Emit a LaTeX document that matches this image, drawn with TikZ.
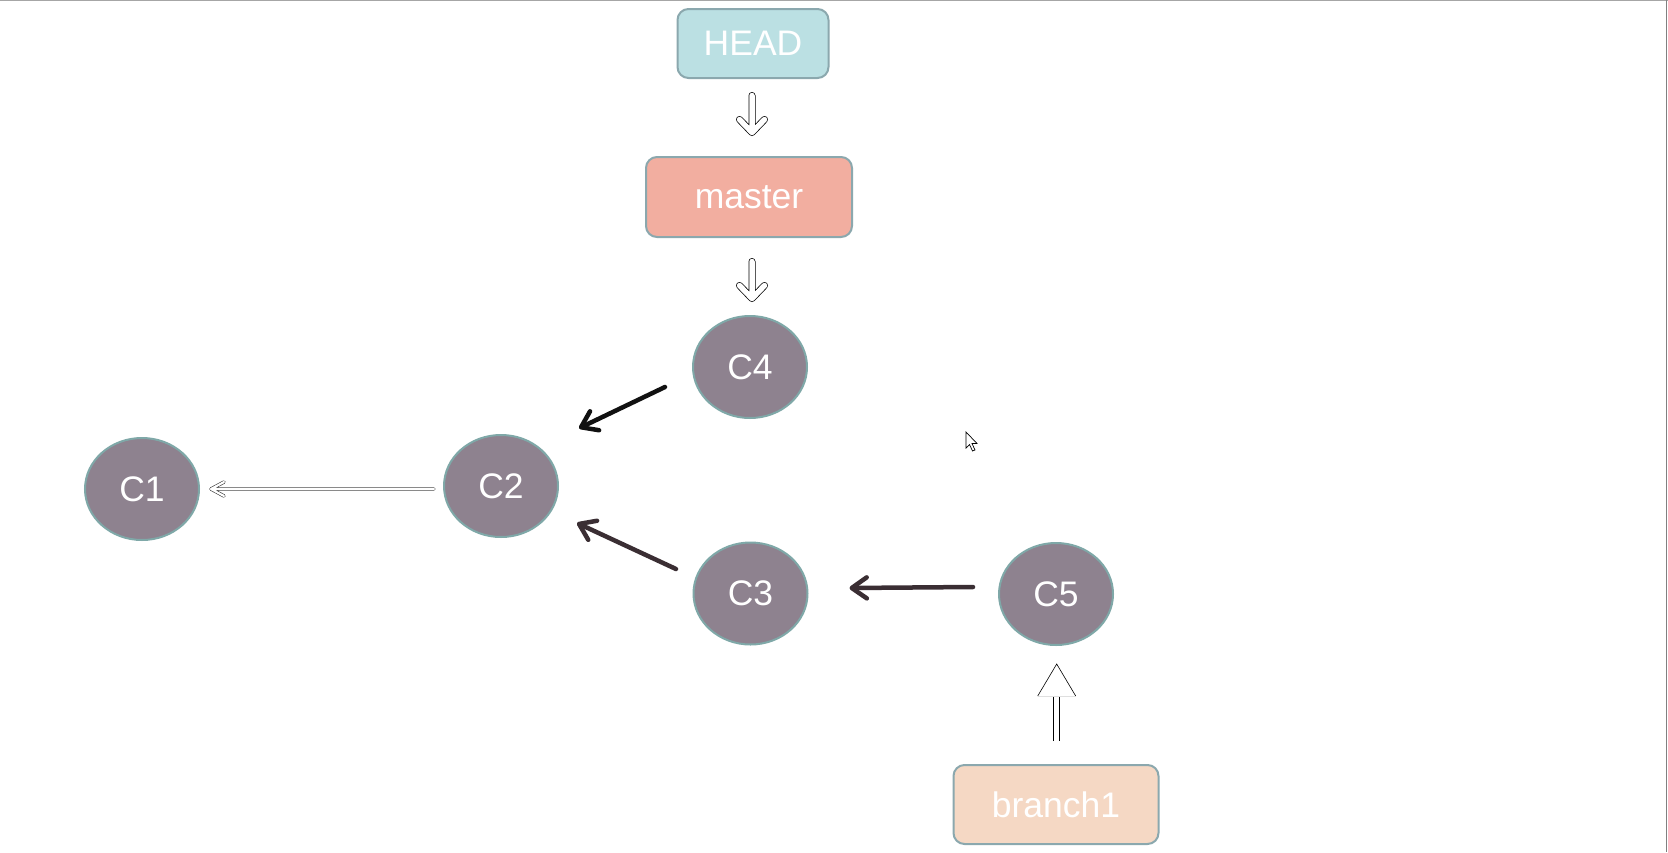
\documentclass[tikz,border=0pt]{standalone}
\usepackage{fontspec}
\setmainfont{Liberation Sans}
\usetikzlibrary{arrows.meta,shapes.geometric}
\definecolor{headfill}{HTML}{BBE0E3}
\definecolor{masterfill}{HTML}{F2AEA0}
\definecolor{branchfill}{HTML}{F5D8C4}
\definecolor{boxline}{HTML}{8BA8AE}
\definecolor{commitfill}{HTML}{8E828F}
\definecolor{commitline}{HTML}{7FA8A8}
\definecolor{darkarrow}{HTML}{3A2E33}
\definecolor{blackarrow}{HTML}{111111}
\tikzset{
  reflabel/.style={rectangle, rounded corners=11pt, draw=boxline, line width=2pt,
    text=white, font=\fontsize{35.5pt}{40pt}\selectfont, inner sep=0pt},
  commit/.style={ellipse, fill=commitfill, draw=commitline, line width=2pt,
    minimum width=114pt, minimum height=102pt, inner sep=0pt,
    text=white, font=\fontsize{35.5pt}{40pt}\selectfont},
  hollowline/.style={draw=black, double=white, line width=0.75pt, double distance=5.5pt,
    line cap=round, line join=round},
  thinhollow/.style={draw=black!80, double=white, line width=0.6pt, double distance=2.2pt,
    line cap=round, line join=round},
  solidarrow/.style={line width=4.5pt, line cap=round,
    -{Straight Barb[length=15pt,width=21pt,line cap=round,line join=round]}},
  blockshaft/.style={draw=black, double=white, line width=0.7pt, double distance=5.2pt},
  blocktip/.style={draw=black, fill=white, line width=0.6pt, line join=miter}
}
\begin{document}
\begin{tikzpicture}[x=1pt,y=-1pt]
\useasboundingbox (0,0) rectangle (1668,852);
\fill[white] (0,0) rectangle (1668,852);
\draw[gray!70, line width=1pt] (0,0.5) -- (1668,0.5);
\draw[gray, line width=1.5pt] (1666.5,0) -- (1666.5,852);

% reference labels
\node[reflabel, fill=headfill, minimum width=151pt, minimum height=69pt] (HEAD) at (753,43.5) {HEAD};
\node[reflabel, fill=masterfill, minimum width=206pt, minimum height=80pt] (master) at (749,197) {master};
\node[reflabel, fill=branchfill, minimum width=205pt, minimum height=79pt] (branch1) at (1056,804.5) {branch1};

% commits
\node[commit] (C1) at (142,489) {C1};
\node[commit] (C2) at (501,486) {C2};
\node[commit] (C4) at (750,367) {C4};
\node[commit] (C3) at (750.5,593.5) {C3};
\node[commit] (C5) at (1056,594) {C5};

% pointer arrows (hollow outlined arrows)
\coordinate (t1) at ([shift={(3,-23.5)}]master.north);
\draw[hollowline] ([shift={(-1,16.5)}]HEAD.south) -- (t1)
   (t1) -- +(-12.5,-13) (t1) -- +(12.5,-13);
\coordinate (t2) at ([shift={(2,-16.5)}]C4.north);
\draw[hollowline] ([shift={(3,23.5)}]master.south) -- (t2)
   (t2) -- +(-12.5,-13) (t2) -- +(12.5,-13);

\coordinate (b1) at ([shift={(0.7,-23)}]branch1.north);
\coordinate (b2) at ([shift={(0.7,50)}]C5.south);
\draw[blockshaft] (b1) -- (b2);
\draw[blocktip, draw=none] ([shift={(0.7,18)}]C5.south) -- ++(-19,32) -- ++(38,0) -- cycle;
\draw[black, line width=0.6pt] ([shift={(-18.3,50)}]C5.south) -- ([shift={(0.7,18)}]C5.south) -- ([shift={(19.7,50)}]C5.south);
\draw[gray!25, line width=0.6pt] ([shift={(-18.3,50)}]C5.south) -- ([shift={(19.7,50)}]C5.south);

% parent arrows
\draw[solidarrow, blackarrow] ([shift={(-27,20)}]C4.west) -- ([shift={(37,-21)}]C2.north east);
\draw[solidarrow, darkarrow] ([shift={(-16.5,-24.5)}]C3.west) -- ([shift={(18,37)}]C2.east);
\draw[solidarrow, darkarrow] ([shift={(-25,-7)}]C5.west) -- ([shift={(41,-5.5)}]C3.east);
\coordinate (t3) at ([shift={(11,0)}]C1.east);
\draw[thinhollow] ([shift={(-9,3)}]C2.west) -- (t3)
   (t3) -- +(13,-7) (t3) -- +(13,7);

% mouse pointer
\draw[fill=white, draw=black, line width=0.7pt, line join=miter]
  (966,432) -- (966,448) -- (969.5,444.5) -- (972.5,451) -- (975,450) -- (972,443.5) -- (977,443.5) -- cycle;
\end{tikzpicture}
\end{document}
